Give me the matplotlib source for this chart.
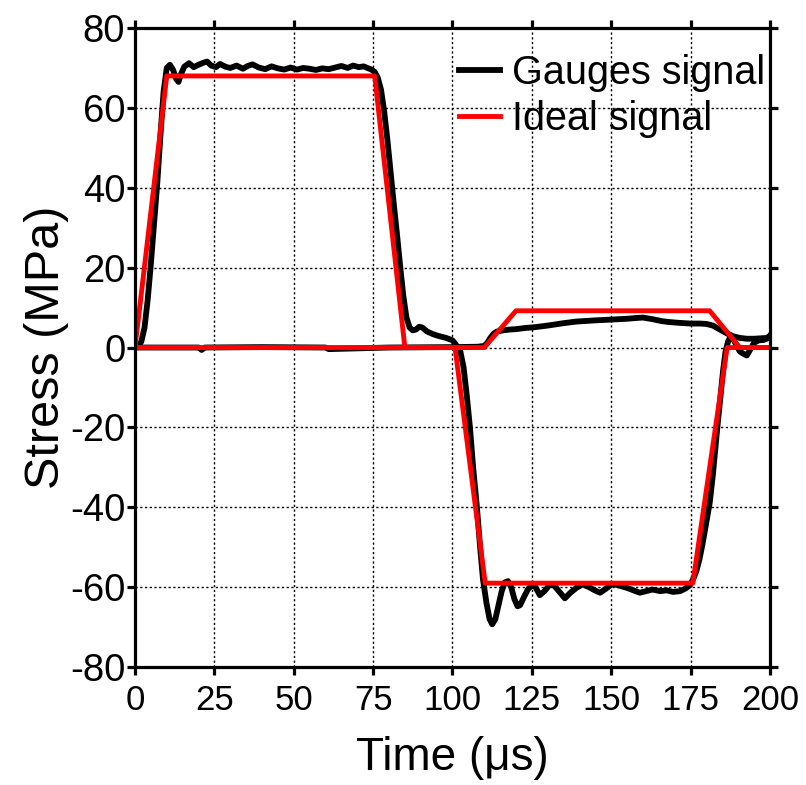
import numpy as np
import matplotlib
matplotlib.use('Agg')
import matplotlib.pyplot as plt
from matplotlib import font_manager

# fonts: Arial-like, narrow one for the x axis if present
names = set(f.name for f in font_manager.fontManager.ttflist)
main_font = 'Liberation Sans' if 'Liberation Sans' in names else 'DejaVu Sans'
narrow_font = 'Liberation Sans Narrow' if 'Liberation Sans Narrow' in names else main_font
plt.rcParams['font.family'] = [main_font, 'DejaVu Sans']
plt.rcParams['axes.unicode_minus'] = False

# gauge signal, incident + reflected, (time us, stress MPa)
inc_pts = [(0, 0), (1, 0.3), (2, 1.5), (3, 5), (4, 12), (5, 21), (6, 31), (7, 41), (8, 53),
           (9, 64), (10, 70), (11, 70.8), (12, 69.5), (13, 67.2), (13.7, 66.5), (14.5, 68.5),
           (15.5, 70.3), (17, 71.2), (18.5, 70.2), (20, 70.8), (21.5, 71.3), (22.7, 71.6),
           (24, 70.6), (25.5, 70.2), (26.8, 71.0), (28.5, 70.3), (30, 70.0), (32, 70.6),
           (34, 69.8), (35.5, 70.5), (37, 70.9), (39, 70.1), (41, 69.7), (43, 70.4), (45, 69.9),
           (47, 69.6), (49, 70.1), (51, 69.6), (53, 70.0), (55, 69.8), (57, 69.5), (59, 69.9),
           (61, 69.7), (63, 70.1), (65, 70.5), (67, 70.0), (68.7, 70.6), (70.5, 70.2),
           (72, 70.4), (73.5, 69.9), (74.5, 69.6), (75.5, 69.0), (76.5, 67.5), (77.5, 64.5),
           (78.5, 59), (79.5, 52), (80.5, 44), (81.5, 36), (82.5, 28.5), (83.5, 20.5),
           (84.5, 13), (85.5, 7.5), (86.5, 5), (87.5, 4.3), (88.5, 4.5), (89.5, 5.2),
           (90.5, 5.0), (92, 4.0), (94, 3.3), (96, 2.8), (98, 2.4), (100, 1.8), (100.8, 1.0),
           (101.5, 0.2), (102.4, -0.7), (103.5, -5), (104.5, -12), (105.5, -20), (106.5, -30),
           (107.7, -40), (108.7, -50), (109.6, -58), (110.7, -64), (111.7, -68),
           (112.5, -69.3), (113.5, -68), (114.5, -64.5), (115.5, -61), (116.5, -58.8),
           (117.5, -58.5), (118.5, -60), (119.5, -63), (120.5, -64.8), (121.3, -64.5),
           (122.5, -62.5), (123.8, -60.5), (125, -59.5), (126, -59.8), (127.5, -62),
           (129, -61), (130.5, -59.5), (131.7, -59.3), (133.5, -61), (135.4, -62.8),
           (137, -61.5), (139, -60.2), (141, -59.3), (143, -60), (144.8, -60.8), (146.5, -61.4),
           (148.5, -60.3), (150.3, -59.2), (152.5, -59.6), (155, -60.2), (157, -60.8),
           (159, -61.4), (161, -61), (163, -60.6), (165.4, -61), (167.5, -60.8), (169.5, -61.2),
           (171.7, -61), (173.5, -60.3), (174.8, -59.5), (175.8, -58), (176.8, -56),
           (177.8, -53), (178.8, -49), (179.8, -44.5), (181, -39), (182, -32), (183.3, -21),
           (184.3, -13), (185.2, -6), (186, -1), (186.8, 1.5), (187.4, 2.5), (188.5, 2.0),
           (189.5, 0.5), (190.5, -1.0), (191.5, -1.5), (192.7, -2.0), (193.8, -0.5),
           (195, 1.2), (196.5, 1.8), (198, 1.9), (199.3, 2.3), (200, 3.0)]

# gauge signal, transmitted
tr_pts = [(0, 0), (20, 0), (21, -0.6), (22, 0), (40, 0.1), (60, 0), (61, -0.4), (80, 0),
          (100, 0.1), (108, 0.2), (110, 0.4), (111, 1.2), (112, 2.5), (113, 3.5), (114, 4.0),
          (116, 4.3), (118, 4.5), (120, 4.6), (123, 4.9), (126, 5.1), (130, 5.5), (135, 6.1),
          (139, 6.5), (145, 6.8), (150, 7.0), (155, 7.2), (158, 7.4), (160, 7.5), (163, 7.1),
          (166, 6.6), (168, 6.4), (171, 6.2), (175, 6.0), (178, 6.0), (180, 5.9), (182, 5.5),
          (184, 4.6), (186.5, 3.5), (188.5, 2.8), (190.5, 2.4), (192.7, 2.2), (195, 2.2),
          (197, 2.3), (199, 2.4), (200, 2.9)]

# ideal signals
ideal_inc_t = [0, 10, 75.5, 85, 100]
ideal_inc_s = [0, 68, 68, 0, 0]
ideal_ref_t = [100.8, 110.3, 175.7, 186.5, 200]
ideal_ref_s = [0, -59, -59, 0, 0]
ideal_tr_t = [0, 110, 120, 181, 190.5, 200]
ideal_tr_s = [0, 0, 9.2, 9.2, 0, 0]

inc_t, inc_s = zip(*inc_pts)
tr_t, tr_s = zip(*tr_pts)

fig = plt.figure(figsize=(8.06, 7.85), dpi=100)
ax = fig.add_axes([0.1675, 0.1503, 0.7878, 0.814])

ax.plot(tr_t, tr_s, color='black', lw=4.2, solid_joinstyle='round')
ax.plot(inc_t, inc_s, color='black', lw=4.2, solid_joinstyle='round', label='Gauges signal')
ax.plot(ideal_tr_t, ideal_tr_s, color='#ff0000', lw=3.5)
ax.plot(ideal_inc_t, ideal_inc_s, color='#ff0000', lw=3.5, label='Ideal signal')
ax.plot(ideal_ref_t, ideal_ref_s, color='#ff0000', lw=3.5)

ax.set_xlim(0, 200)
ax.set_ylim(-80, 80)
ax.set_xticks(np.arange(0, 201, 25))
ax.set_yticks(np.arange(-80, 81, 20))
ax.grid(True, color='black', linestyle=(0, (1.6, 1.8)), lw=1.0)
ax.set_axisbelow(True)

for sp in ax.spines.values():
    sp.set_linewidth(2.3)
ax.tick_params(direction='out', length=6, width=2.3, top=True, right=True)
ax.tick_params(axis='y', labelsize=27.5, pad=1)
ax.tick_params(axis='x', labelsize=25, pad=6)
for lab in ax.get_xticklabels():
    lab.set_family(narrow_font)

ax.set_xlabel('Time (\u03bcs)', fontsize=33, family=narrow_font, labelpad=14)
ax.set_ylabel('Stress (MPa)', fontsize=35, labelpad=1)

ax.legend(loc='upper right', bbox_to_anchor=(1.03, 0.997), frameon=False, fontsize=28.5,
          handlelength=1.05, handletextpad=0.3, labelspacing=0.2, borderaxespad=0.2)

fig.savefig('out.png', dpi=100)
